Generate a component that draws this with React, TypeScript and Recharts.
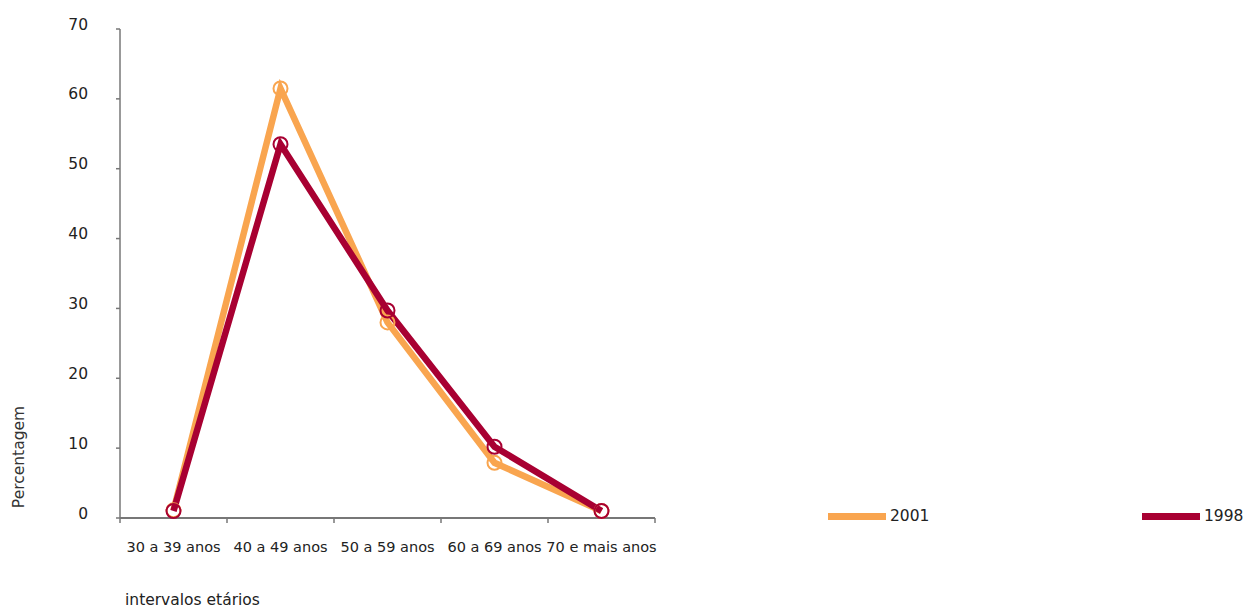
import { LineChart, Line, XAxis, YAxis } from "recharts";

const categories = ["30 a 39 anos", "40 a 49 anos", "50 a 59 anos", "60 a 69 anos", "70 e mais anos"];
const values2001 = [1.1, 61.5, 28, 7.9, 1];
const values1998 = [1, 53.5, 29.7, 10.2, 1];
const yTicks = [0, 10, 20, 30, 40, 50, 60, 70];
const seriesNames = ["2001", "1998"];

const data = categories.map((c, i) => ({ cat: c, y2001: values2001[i], y1998: values1998[i] }));

const FONT = "'DejaVu Sans', Verdana, sans-serif";
const ORANGE = "#f9a54f";
const CRIMSON = "#a80032";
const AXIS = "#777";
const BAND = 107;

function XTick(props: any) {
  const { x, y, payload, index } = props;
  const last = index === categories.length - 1;
  return (
    <g>
      <line x1={x - BAND / 2} x2={x - BAND / 2} y1={y - 8} y2={y - 3} stroke={AXIS} strokeWidth={1.5} />
      {last && <line x1={x + BAND / 2} x2={x + BAND / 2} y1={y - 8} y2={y - 3} stroke={AXIS} strokeWidth={1.5} />}
      <text x={x} y={y + 26} textAnchor="middle" fill="#222" fontSize={14.5} fontFamily={FONT}>
        {payload.value}
      </text>
    </g>
  );
}

function LegendBox() {
  const items = [
    { name: seriesNames[0], color: ORANGE, left: 828 },
    { name: seriesNames[1], color: CRIMSON, left: 1142 },
  ];
  return (
    <>
      {items.map((it) => (
        <div
          key={it.name}
          style={{
            position: "absolute",
            left: it.left,
            top: 507,
            display: "flex",
            alignItems: "center",
            fontFamily: FONT,
            fontSize: 15.5,
            color: "#222",
          }}
        >
          <span style={{ display: "inline-block", width: 58, height: 7, background: it.color, marginRight: 4 }} />
          <span>{it.name}</span>
        </div>
      ))}
    </>
  );
}

export default function App() {
  return (
    <div style={{ position: "absolute", left: 0, top: 0, width: 1252, height: 608, background: "#fff" }}>
      <LineChart width={1252} height={608} data={data} margin={{ top: 29, right: 597, bottom: 60, left: 60 }}>
        <XAxis
          dataKey="cat"
          scale="band"
          height={30}
          stroke={AXIS}
          strokeWidth={2}
          tickLine={false}
          tick={<XTick />}
          interval={0}
          label={{
            content: () => (
              <text x={125} y={605} fill="#222" fontSize={15.5} fontFamily={FONT}>
                intervalos etários
              </text>
            ),
          }}
        />
        <YAxis
          width={60}
          domain={[0, 70]}
          ticks={yTicks}
          stroke={AXIS}
          strokeWidth={1.5}
          tickSize={4}
          tickMargin={28}
          tick={{ fill: "#222", fontSize: 15.5, fontFamily: FONT, dy: -5 }}
          label={{
            content: () => (
              <text x={24} y={457} transform="rotate(-90 24 457)" textAnchor="middle" fill="#333" fontSize={15.5} fontFamily={FONT}>
                Percentagem
              </text>
            ),
          }}
        />
        <Line
          dataKey="y2001"
          name={seriesNames[0]}
          stroke={ORANGE}
          strokeWidth={6.5}
          dot={{ r: 7, stroke: ORANGE, strokeWidth: 2, fill: "none" }}
          activeDot={false}
          isAnimationActive={false}
        />
        <Line
          dataKey="y1998"
          name={seriesNames[1]}
          stroke={CRIMSON}
          strokeWidth={6.5}
          dot={{ r: 7, stroke: CRIMSON, strokeWidth: 2, fill: "none" }}
          activeDot={false}
          isAnimationActive={false}
        />
      </LineChart>
      <LegendBox />
    </div>
  );
}
